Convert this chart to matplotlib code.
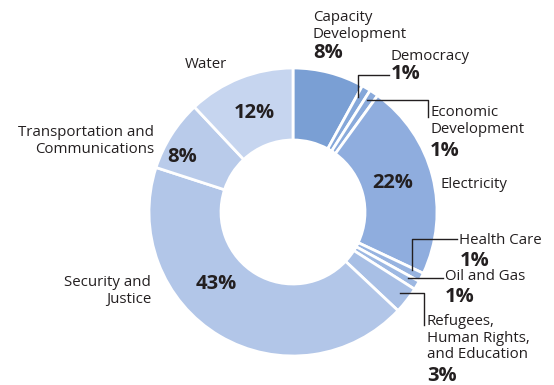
import matplotlib.pyplot as plt

# Sector shares (%)
sectors = ['Capacity Development', 'Democracy', 'Economic Development', 'Electricity',
           'Health Care', 'Oil and Gas', 'Refugees, Human Rights, and Education',
           'Security and Justice', 'Transportation and Communications', 'Water']
shares = [8, 1, 1, 22, 1, 1, 3, 43, 8, 12]
colors = ['#7a9fd4', '#85a7d9', '#8aaadb', '#8fadde', '#97b3e0', '#9db8e2',
          '#a8bfe5', '#b2c6e8', '#b9cbea', '#c6d5ef']

plt.rcParams['font.family'] = ['Open Sans', 'DejaVu Sans']
txt = '#231f20'

fig = plt.figure(figsize=(5.54, 3.85), dpi=100)
ax = fig.add_axes([0, 0, 1, 1])

# donut, in pixel coords (y flipped)
wedges, _ = ax.pie(shares, colors=colors, startangle=-90, counterclock=True,
                   radius=144, center=(293, 212),
                   wedgeprops=dict(width=72, edgecolor='white', linewidth=2))
ax.set_xlim(0, 554)
ax.set_ylim(385, 0)
ax.set_aspect('equal')
ax.axis('off')

fs = 10.8
bfs = 14.5

def lab(x, y, s, ha='left', bold=False):
    ax.text(x, y, s, ha=ha, va='center', color=txt,
            fontsize=bfs if bold else fs,
            fontweight='bold' if bold else 'normal', linespacing=1.12)

# labels outside
lab(313, 26, 'Capacity\nDevelopment')
lab(313, 53, f'{shares[0]}%', bold=True)
lab(391, 56, 'Democracy')
lab(391, 74, f'{shares[1]}%', bold=True)
lab(430, 121, 'Economic\nDevelopment')
lab(430, 151, f'{shares[2]}%', bold=True)
lab(440, 184, 'Electricity')
lab(459, 240, 'Health Care')
lab(460, 261, f'{shares[4]}%', bold=True)
lab(445, 277, 'Oil and Gas')
lab(445, 297, f'{shares[5]}%', bold=True)
lab(427, 338, 'Refugees,\nHuman Rights,\nand Education')
lab(427, 376, f'{shares[6]}%', bold=True)
lab(151, 291, 'Security and\nJustice', ha='right')
lab(154, 141, 'Transportation and\nCommunications', ha='right')
lab(206, 65, 'Water', ha='center')

# percentages inside ring
lab(393, 183, f'{shares[3]}%', ha='center', bold=True)
lab(216, 284, f'{shares[7]}%', ha='center', bold=True)
lab(182, 157, f'{shares[8]}%', ha='center', bold=True)
lab(254, 113, f'{shares[9]}%', ha='center', bold=True)

# leader lines
lk = dict(color=txt, lw=1)
ax.plot([358, 358, 389], [97, 75, 75], **lk)
ax.plot([367, 428, 428], [100, 100, 117], **lk)
ax.plot([412, 412, 457], [270, 239, 239], **lk)
ax.plot([408, 443], [278, 278], **lk)
ax.plot([400, 424, 424], [293, 293, 325], **lk)

fig.savefig('out.png', dpi=100)
